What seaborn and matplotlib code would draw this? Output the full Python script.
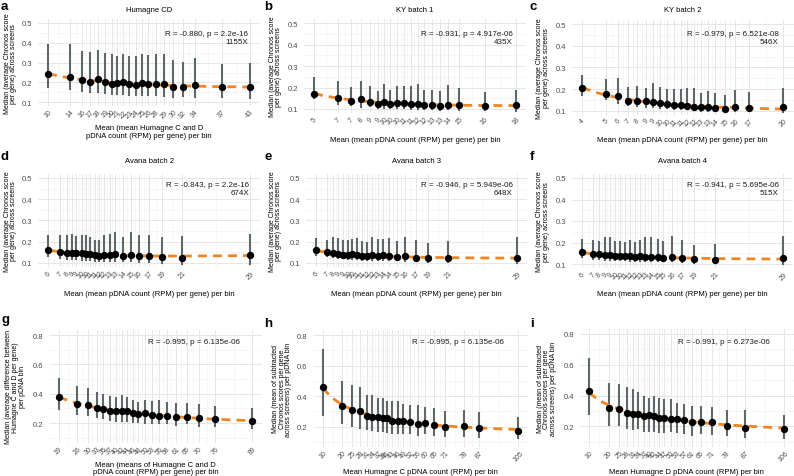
import numpy as np
import matplotlib
matplotlib.use("Agg")
import matplotlib.pyplot as plt
import seaborn as sns

sns.set_theme(style="white")
plt.rcParams['font.family'] = ['Liberation Sans', 'DejaVu Sans']

# ---------------- data ----------------
a_x = [10.0, 13.6, 15.5, 16.9, 18.1, 19.3, 20.4, 21.2, 22.3, 23.3, 24.3, 25.4, 26.4, 27.6, 29.0, 30.5, 32.0, 34.0, 38.4, 43.0]
a_ticks = ["10", "14", "16", "17", "18", "19", "20", "21", "22", "23", "24", "25", "26", "28", "29", "30", "32", "34", "37", "43"]
a_med = [0.244, 0.229, 0.213, 0.200, 0.217, 0.202, 0.192, 0.196, 0.200, 0.193, 0.189, 0.197, 0.192, 0.194, 0.192, 0.176, 0.176, 0.186, 0.176, 0.179]
a_hi = [0.394, 0.392, 0.357, 0.352, 0.364, 0.347, 0.342, 0.332, 0.342, 0.332, 0.335, 0.345, 0.340, 0.345, 0.342, 0.313, 0.303, 0.325, 0.292, 0.298]
a_lo = [0.172, 0.162, 0.154, 0.145, 0.148, 0.142, 0.138, 0.138, 0.135, 0.134, 0.130, 0.131, 0.130, 0.132, 0.128, 0.124, 0.125, 0.122, 0.120, 0.117]

b_x = [5.0, 6.55, 7.37, 8.01, 8.62, 9.09, 9.50, 9.89, 10.36, 10.81, 11.22, 11.67, 12.10, 12.58, 13.11, 13.61, 14.36, 15.98, 18.0]
b_ticks = ["5", "7", "7", "8", "9", "9", "10", "10", "10", "11", "11", "12", "12", "13", "13", "14", "15", "16", "18"]
b_med = [0.172, 0.150, 0.139, 0.147, 0.134, 0.123, 0.131, 0.124, 0.129, 0.128, 0.124, 0.124, 0.120, 0.120, 0.116, 0.120, 0.117, 0.114, 0.118]
b_hi = [0.250, 0.230, 0.203, 0.231, 0.208, 0.186, 0.218, 0.190, 0.208, 0.205, 0.206, 0.214, 0.190, 0.188, 0.183, 0.210, 0.200, 0.178, 0.188]
b_lo = [0.145, 0.120, 0.114, 0.106, 0.110, 0.100, 0.100, 0.099, 0.100, 0.100, 0.096, 0.096, 0.095, 0.095, 0.093, 0.095, 0.093, 0.090, 0.085]

c_x = [4.0, 5.88, 6.86, 7.68, 8.39, 9.10, 9.63, 10.22, 10.77, 11.27, 11.83, 12.36, 12.89, 13.42, 14.0, 14.6, 15.35, 16.19, 17.25, 20.0]
c_ticks = ["4", "5", "6", "7", "8", "9", "9", "10", "10", "11", "11", "12", "12", "13", "13", "14", "15", "16", "17", "20"]
c_med = [0.203, 0.177, 0.168, 0.146, 0.146, 0.143, 0.142, 0.137, 0.131, 0.126, 0.125, 0.122, 0.118, 0.117, 0.117, 0.113, 0.110, 0.116, 0.113, 0.115]
c_hi = [0.265, 0.246, 0.251, 0.208, 0.215, 0.205, 0.226, 0.208, 0.200, 0.200, 0.200, 0.203, 0.205, 0.183, 0.193, 0.182, 0.173, 0.194, 0.188, 0.205]
c_lo = [0.169, 0.150, 0.132, 0.120, 0.115, 0.112, 0.112, 0.110, 0.107, 0.103, 0.103, 0.103, 0.097, 0.096, 0.096, 0.095, 0.092, 0.092, 0.092, 0.088]

d_x = [6.0, 7.3, 8.1, 8.7, 9.2, 9.8, 10.3, 10.8, 11.3, 11.8, 12.3, 13.0, 13.6, 14.5, 15.4, 16.3, 17.5, 19.0, 21.3, 29.0]
d_ticks = ["6", "7", "8", "9", "9", "10", "10", "11", "11", "12", "12", "13", "13", "14", "15", "16", "17", "19", "21", "29"]
d_med = [0.161, 0.152, 0.147, 0.147, 0.145, 0.145, 0.141, 0.141, 0.139, 0.134, 0.137, 0.140, 0.141, 0.135, 0.140, 0.134, 0.132, 0.128, 0.125, 0.140]
d_hi = [0.233, 0.233, 0.233, 0.236, 0.229, 0.232, 0.232, 0.222, 0.208, 0.206, 0.232, 0.236, 0.244, 0.222, 0.244, 0.230, 0.230, 0.220, 0.229, 0.237]
d_lo = [0.130, 0.119, 0.114, 0.114, 0.114, 0.111, 0.108, 0.108, 0.106, 0.103, 0.103, 0.103, 0.103, 0.103, 0.103, 0.100, 0.100, 0.095, 0.092, 0.092]

e_x = [6.0, 7.29, 8.02, 8.59, 9.16, 9.73, 10.18, 10.71, 11.25, 11.82, 12.39, 13.07, 13.72, 14.4, 15.32, 16.19, 17.41, 18.85, 21.13, 29.0]
e_ticks = ["6", "7", "8", "9", "9", "10", "10", "11", "11", "12", "12", "13", "14", "14", "15", "16", "17", "19", "21", "29"]
e_med = [0.161, 0.150, 0.147, 0.144, 0.139, 0.139, 0.142, 0.139, 0.135, 0.135, 0.139, 0.133, 0.136, 0.133, 0.130, 0.133, 0.125, 0.122, 0.122, 0.125]
e_hi = [0.216, 0.208, 0.221, 0.216, 0.208, 0.208, 0.211, 0.216, 0.205, 0.200, 0.222, 0.211, 0.214, 0.216, 0.202, 0.222, 0.208, 0.193, 0.202, 0.222]
e_lo = [0.135, 0.127, 0.122, 0.120, 0.119, 0.116, 0.114, 0.114, 0.111, 0.111, 0.111, 0.111, 0.108, 0.108, 0.108, 0.106, 0.103, 0.098, 0.098, 0.095]

f_x = [6.0, 7.33, 8.02, 8.62, 9.23, 9.84, 10.37, 10.9, 11.51, 12.08, 12.65, 13.22, 13.87, 14.75, 15.32, 16.27, 17.44, 18.85, 21.21, 29.0]
f_ticks = ["6", "7", "8", "9", "9", "10", "10", "11", "12", "12", "13", "13", "14", "15", "15", "16", "17", "19", "21", "29"]
f_med = [0.154, 0.147, 0.145, 0.142, 0.142, 0.139, 0.137, 0.136, 0.136, 0.134, 0.136, 0.134, 0.134, 0.131, 0.128, 0.134, 0.128, 0.123, 0.120, 0.126]
f_hi = [0.216, 0.212, 0.205, 0.224, 0.227, 0.205, 0.205, 0.201, 0.212, 0.201, 0.213, 0.227, 0.224, 0.216, 0.205, 0.229, 0.212, 0.190, 0.193, 0.232]
f_lo = [0.126, 0.119, 0.119, 0.116, 0.116, 0.112, 0.112, 0.112, 0.111, 0.111, 0.111, 0.108, 0.108, 0.108, 0.108, 0.108, 0.105, 0.100, 0.100, 0.095]

g_x = [19.0, 25.7, 29.7, 32.7, 35.1, 37.5, 39.7, 41.8, 43.6, 45.7, 47.8, 50.2, 52.6, 55.4, 58.0, 61.4, 65.3, 69.6, 75.6, 89.0]
g_ticks = ["19", "26", "30", "33", "35", "37", "40", "42", "44", "46", "48", "50", "53", "55", "58", "61", "65", "70", "76", "89"]
g_med = [0.380, 0.330, 0.320, 0.305, 0.295, 0.285, 0.280, 0.285, 0.280, 0.270, 0.260, 0.265, 0.255, 0.250, 0.245, 0.240, 0.240, 0.232, 0.226, 0.215]
g_hi = [0.510, 0.455, 0.440, 0.410, 0.400, 0.385, 0.375, 0.390, 0.380, 0.360, 0.345, 0.360, 0.350, 0.355, 0.340, 0.335, 0.335, 0.330, 0.315, 0.300]
g_lo = [0.290, 0.255, 0.250, 0.235, 0.230, 0.215, 0.210, 0.210, 0.205, 0.200, 0.200, 0.195, 0.190, 0.190, 0.190, 0.180, 0.190, 0.175, 0.170, 0.160]

h_x = [10.0, 19.4, 24.3, 28.0, 31.2, 34.0, 36.9, 39.3, 40.9, 43.4, 46.3, 49.1, 52.3, 56.0, 59.6, 64.1, 69.3, 78.7, 86.0, 105.0]
h_ticks = ["10", "20", "25", "28", "31", "34", "37", "39", "41", "43", "46", "49", "52", "56", "60", "65", "71", "78", "87", "105"]
h_med = [0.460, 0.335, 0.310, 0.305, 0.270, 0.265, 0.265, 0.260, 0.255, 0.240, 0.235, 0.240, 0.230, 0.220, 0.225, 0.210, 0.200, 0.205, 0.190, 0.175]
h_hi = [0.710, 0.500, 0.470, 0.460, 0.405, 0.410, 0.390, 0.390, 0.370, 0.365, 0.365, 0.350, 0.345, 0.345, 0.330, 0.325, 0.300, 0.310, 0.295, 0.265]
h_lo = [0.270, 0.215, 0.195, 0.185, 0.180, 0.170, 0.165, 0.165, 0.160, 0.155, 0.150, 0.155, 0.150, 0.140, 0.150, 0.140, 0.130, 0.135, 0.125, 0.120]

i_x = [10.0, 19.5, 24.8, 28.4, 31.7, 34.2, 37.0, 39.6, 41.9, 44.5, 47.0, 50.1, 53.1, 56.7, 60.5, 64.9, 70.4, 77.8, 86.8, 106.0]
i_ticks = ["10", "20", "25", "28", "31", "34", "37", "40", "42", "44", "47", "50", "53", "57", "61", "65", "71", "78", "87", "106"]
i_med = [0.430, 0.320, 0.315, 0.285, 0.280, 0.280, 0.270, 0.275, 0.270, 0.255, 0.255, 0.250, 0.245, 0.240, 0.225, 0.230, 0.225, 0.205, 0.190, 0.185]
i_hi = [0.645, 0.480, 0.475, 0.455, 0.440, 0.425, 0.400, 0.385, 0.395, 0.385, 0.375, 0.375, 0.350, 0.345, 0.330, 0.335, 0.325, 0.305, 0.305, 0.275]
i_lo = [0.275, 0.200, 0.205, 0.185, 0.175, 0.180, 0.165, 0.165, 0.160, 0.155, 0.155, 0.160, 0.155, 0.150, 0.140, 0.150, 0.145, 0.135, 0.125, 0.115]

titles = ["Humagne CD", "KY batch 1", "KY batch 2", "Avana batch 2", "Avana batch 3", "Avana batch 4", "", "", ""]
stats = ["R = -0.880, p = 2.2e-16\n1155X", "R = -0.931, p = 4.917e-06\n435X",
         "R = -0.979, p = 6.521e-08\n546X", "R = -0.843, p = 2.2e-16\n674X",
         "R = -0.946, p = 5.949e-06\n648X", "R = -0.941, p = 5.695e-06\n515X",
         "R = -0.995, p = 6.135e-06", "R = -0.995, p = 6.135e-06", "R = -0.991, p = 6.273e-06"]
xlab_a = "Mean (mean Humagne C and D\npDNA count (RPM) per gene) per bin"
xlab_b = "Mean (mean pDNA count (RPM) per gene) per bin"
xlab_g = "Mean (means of Humagne C and D\npDNA count (RPM) per gene) per bin"
xlab_h = "Mean Humagne C pDNA count (RPM) per bin"
xlab_i = "Mean Humagne D pDNA count (RPM) per bin"
ylab_top = "Median (average Chronos score\nper gene) across screens"
ylab_g = "Median (average difference between\nHumagne C and D per gene)\nper pDNA bin"
ylab_h = "Median (mean of subtracted\nChronos scores per gene\nacross screens) per pDNA bin"
yticks_top = [0.1, 0.2, 0.3, 0.4, 0.5]
yticks_bot = [0.2, 0.4, 0.6, 0.8]

# ---------------- layout (pixels) ----------------
W, H = 794, 477
fig = plt.figure(figsize=(W / 100, H / 100), dpi=100)
fig.patch.set_facecolor("white")

ORANGE = "#F28522"
BARC = "#5f6868"
TICKC = "#4D4D4D"

panels = [
    dict(L="a", d=(a_x, a_med, a_lo, a_hi, a_ticks), box=(38, 20, 260, 107.3), xl=xlab_a, xly=132.5, yl=ylab_top, ylx=10.5, ann=(248, 38.2), lab=(0.3, 9.5), ty=10),
    dict(L="b", d=(b_x, b_med, b_lo, b_hi, b_ticks), box=(304, 19.7, 526, 114.3), xl=xlab_b, xly=140, yl=ylab_top, ylx=275.5, ann=(513, 38), lab=(264.5, 9.5), ty=10),
    dict(L="c", d=(c_x, c_med, c_lo, c_hi, c_ticks), box=(572, 20.7, 793.5, 116), xl=xlab_b, xly=140, yl=ylab_top, ylx=543, ann=(779, 38.5), lab=(530, 9.5), ty=10),
    dict(L="d", d=(d_x, d_med, d_lo, d_hi, d_ticks), box=(38.2, 174.75, 260, 268.25), xl=xlab_b, xly=295, yl=ylab_top, ylx=10.5, ann=(249, 189.2), lab=(0.3, 159.5), ty=161.7),
    dict(L="e", d=(e_x, e_med, e_lo, e_hi, e_ticks), box=(305.6, 174.75, 527.4, 268.25), xl=xlab_b, xly=295, yl=ylab_top, ylx=275.5, ann=(513, 189.2), lab=(264.5, 159.5), ty=161.7),
    dict(L="f", d=(f_x, f_med, f_lo, f_hi, f_ticks), box=(571.6, 174.7, 793.4, 269.3), xl=xlab_b, xly=295, yl=ylab_top, ylx=543, ann=(779, 189.2), lab=(530, 159.5), ty=161.7),
    dict(L="g", d=(g_x, g_med, g_lo, g_hi, g_ticks), box=(49, 330.9, 262, 443.8), xl=xlab_g, xly=469, yl=ylab_g, ylx=15.5, ann=(240, 342.7), lab=(1, 323.5), ty=None),
    dict(L="h", d=(h_x, h_med, h_lo, h_hi, h_ticks), box=(313.2, 330.7, 528.1, 448.3), xl=xlab_h, xly=472.3, yl=ylab_h, ylx=282, ann=(504, 342.7), lab=(264.5, 327), ty=None),
    dict(L="i", d=(i_x, i_med, i_lo, i_hi, i_ticks), box=(579.6, 329.6, 793.7, 448.1), xl=xlab_i, xly=472.3, yl=ylab_h, ylx=547, ann=(770, 343), lab=(530, 327), ty=None),
]

FS = 5.5

for k, p in enumerate(panels):
    x, med, lo, hi, ticks = [np.asarray(v) if j < 4 else v for j, v in enumerate(p["d"])]
    l, t, r, b = p["box"]
    ax = fig.add_axes([l / W, 1 - b / H, (r - l) / W, (b - t) / H])
    ax.set_facecolor("white")
    top = k < 6
    if top:
        ylim = (0.08, 0.52)
        yt = yticks_top
        ymin_minor = [0.15, 0.25, 0.35, 0.45]
    else:
        ylim = (0.065, 0.835)
        yt = yticks_bot
        ymin_minor = [0.1, 0.3, 0.5, 0.7]
    span = x.max() - x.min()
    xlim = (x.min() - 0.05 * span, x.max() + 0.05 * span)

    # error bars
    ax.vlines(x, lo, hi, color=BARC, lw=1.5, zorder=2)
    # fitted trend (quadratic in log x)
    coef = np.polyfit(np.log(x), med, 2)
    xs = np.linspace(x.min(), x.max(), 200)
    ax.plot(xs, np.polyval(coef, np.log(xs)), color=ORANGE, lw=2.0,
            ls=(0, (3.2, 2.2)), zorder=3, solid_capstyle="butt", dash_capstyle="butt")
    # points
    sns.scatterplot(x=x, y=med, ax=ax, color="black", s=28, linewidth=0, zorder=4)

    ax.set_xlim(*xlim)
    ax.set_ylim(*ylim)
    ax.set_xticks(x)
    ax.set_xticklabels(ticks, rotation=45, ha="center", va="top", fontsize=5, color=TICKC)
    mids = list((x[:-1] + x[1:]) / 2)
    ax.set_xticks(mids, minor=True)
    ax.set_yticks(yt)
    ax.set_yticklabels([f"{v:.1f}" for v in yt], fontsize=FS, color=TICKC)
    ax.set_yticks(ymin_minor, minor=True)
    ax.tick_params(which="both", length=0)
    ax.tick_params(axis="x", pad=1.5)
    ax.tick_params(axis="y", pad=4)
    ax.grid(which="major", color="#E6E6E6", lw=0.7, zorder=0)
    ax.grid(which="minor", color="#F1F1F1", lw=0.45, zorder=0)
    ax.set_axisbelow(True)
    for s in ax.spines.values():
        s.set_visible(False)
    ax.set_xlabel("")
    ax.set_ylabel("")

    cx = (l + r) / 2
    cy = (t + b) / 2
    fig.text(cx / W, 1 - p["xly"] / H, p["xl"], ha="center", va="center",
             fontsize=FS, color="black", linespacing=1.15)
    fig.text(p["ylx"] / W, 1 - cy / H, p["yl"], ha="center", va="center", rotation=90,
             fontsize=5.0, color="black", linespacing=0.95, multialignment="center")
    fig.text(p["ann"][0] / W, 1 - p["ann"][1] / H, stats[k], ha="right", va="center",
             multialignment="right", fontsize=5.8, color="#1a1a1a", linespacing=1.2)
    fig.text(p["lab"][0] / W, 1 - p["lab"][1] / H, p["L"], ha="left", va="baseline",
             fontsize=9.5, fontweight="bold", color="black")
    if p["ty"] is not None:
        fig.text(cx / W, 1 - p["ty"] / H, titles[k], ha="center", va="center",
                 fontsize=FS, color="black")

fig.savefig("out.png", dpi=100, facecolor="white")
